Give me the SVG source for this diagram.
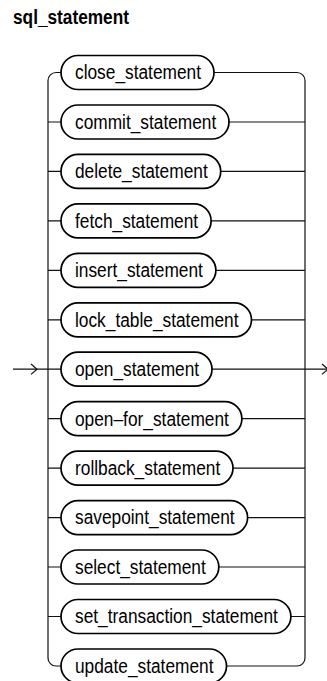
<svg xmlns="http://www.w3.org/2000/svg" width="327" height="681" viewBox="0 0 327 681">
<style>
.pill{fill:#fff;stroke:#000;stroke-width:1.7}
.lbl{font-family:"Liberation Sans",Arial,sans-serif;font-size:19.5px;fill:#000}
.title{font-family:"Liberation Sans",Arial,sans-serif;font-size:19.5px;font-weight:bold;fill:#000}
.c{fill:none;stroke:#111;stroke-width:1.2}
</style>
<rect width="327" height="681" fill="#fff"/>
<text class="title" x="13" y="23.5" textLength="116" lengthAdjust="spacingAndGlyphs">sql_statement</text>
<g id="connectors">
<path class="c" d="M13,369.2 H61"/>
<path class="c" d="M31,364 L37,369.2 L31,374.4"/>
<path class="c" d="M212,369.2 H327"/>
<path class="c" d="M322,364 L328,369.2 L322,374.4"/>
<path class="c" d="M61,72.5 H56 A8,8 0 0 0 48,80.5 V658 A8,8 0 0 0 56,666 H61"/>
<path class="c" d="M214,72.5 H297 A8,8 0 0 1 305,80.5 V658 A8,8 0 0 1 297,666 H226.5"/>
<path class="c" d="M48,122 H61 M229,122 H305"/>
<path class="c" d="M48,171.4 H61 M220.7,171.4 H305"/>
<path class="c" d="M48,220.9 H61 M211.1,220.9 H305"/>
<path class="c" d="M48,270.3 H61 M215.9,270.3 H305"/>
<path class="c" d="M48,319.8 H61 M251.5,319.8 H305"/>
<path class="c" d="M48,418.7 H61 M241.9,418.7 H305"/>
<path class="c" d="M48,468.1 H61 M233,468.1 H305"/>
<path class="c" d="M48,517.6 H61 M247.6,517.6 H305"/>
<path class="c" d="M48,567 H61 M218.8,567 H305"/>
<path class="c" d="M48,616.5 H61 M290.9,616.5 H305"/>
</g>
<g id="close_statement"><rect class="pill" x="61" y="55.5" width="153" height="34" rx="17"/><text class="lbl" x="75" y="79.3" textLength="126" lengthAdjust="spacingAndGlyphs">close_statement</text></g>
<g id="commit_statement"><rect class="pill" x="61" y="105" width="168" height="34" rx="17"/><text class="lbl" x="75" y="128.8" textLength="141.3" lengthAdjust="spacingAndGlyphs">commit_statement</text></g>
<g id="delete_statement"><rect class="pill" x="61" y="154.4" width="159.7" height="34" rx="17"/><text class="lbl" x="75" y="178.2" textLength="132.7" lengthAdjust="spacingAndGlyphs">delete_statement</text></g>
<g id="fetch_statement"><rect class="pill" x="61" y="203.9" width="150.1" height="34" rx="17"/><text class="lbl" x="75" y="227.7" textLength="123.1" lengthAdjust="spacingAndGlyphs">fetch_statement</text></g>
<g id="insert_statement"><rect class="pill" x="61" y="253.3" width="154.9" height="34" rx="17"/><text class="lbl" x="75" y="277.1" textLength="127.9" lengthAdjust="spacingAndGlyphs">insert_statement</text></g>
<g id="lock_table_statement"><rect class="pill" x="61" y="302.8" width="190.5" height="34" rx="17"/><text class="lbl" x="75" y="326.6" textLength="163.5" lengthAdjust="spacingAndGlyphs">lock_table_statement</text></g>
<g id="open_statement"><rect class="pill" x="61" y="352.2" width="151" height="34" rx="17"/><text class="lbl" x="75" y="376" textLength="124.1" lengthAdjust="spacingAndGlyphs">open_statement</text></g>
<g id="open_for_statement"><rect class="pill" x="61" y="401.7" width="180.9" height="34" rx="17"/><text class="lbl" x="75" y="425.5" textLength="153.9" lengthAdjust="spacingAndGlyphs">open–for_statement</text></g>
<g id="rollback_statement"><rect class="pill" x="61" y="451.1" width="172" height="34" rx="17"/><text class="lbl" x="75" y="474.9" textLength="145.2" lengthAdjust="spacingAndGlyphs">rollback_statement</text></g>
<g id="savepoint_statement"><rect class="pill" x="61" y="500.6" width="186.6" height="34" rx="17"/><text class="lbl" x="75" y="524.4" textLength="159.6" lengthAdjust="spacingAndGlyphs">savepoint_statement</text></g>
<g id="select_statement"><rect class="pill" x="61" y="550" width="157.8" height="34" rx="17"/><text class="lbl" x="75" y="573.8" textLength="130.8" lengthAdjust="spacingAndGlyphs">select_statement</text></g>
<g id="set_transaction_statement"><rect class="pill" x="61" y="599.5" width="229.9" height="34" rx="17"/><text class="lbl" x="75" y="623.3" textLength="202.9" lengthAdjust="spacingAndGlyphs">set_transaction_statement</text></g>
<g id="update_statement"><rect class="pill" x="61" y="649" width="165.5" height="34" rx="17"/><text class="lbl" x="75" y="672.8" textLength="138.5" lengthAdjust="spacingAndGlyphs">update_statement</text></g>
</svg>
